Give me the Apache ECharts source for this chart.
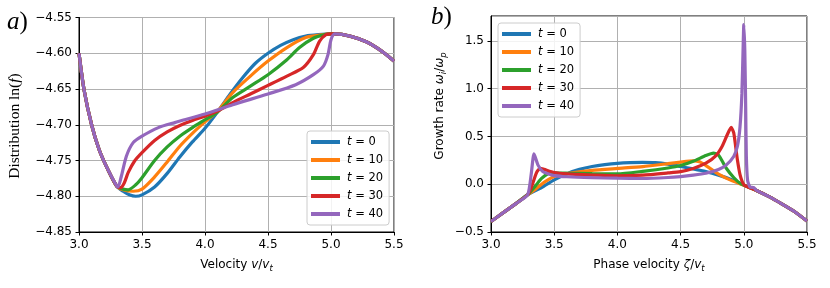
<!DOCTYPE html>
<html><head><meta charset="utf-8">
<script src="https://cdn.jsdelivr.net/npm/echarts@6/dist/echarts.min.js"></script>
<style>html,body{margin:0;padding:0;background:#fff}#c{width:830px;height:288px}</style>
</head><body><div id="c"></div><script>
// ---- data ----
const timeNames = ['t=0', 't=10', 't=20', 't=30', 't=40'];
const xTicks = [3.0, 3.5, 4.0, 4.5, 5.0, 5.5];

// panel a) distribution ln(f): shared tails
const distLoX = [3.0, 3.04, 3.1, 3.16, 3.23, 3.3];
const distLoY = [-4.600, -4.651, -4.700, -4.735, -4.763, -4.786];
const distHiX = [5.03, 5.15, 5.28, 5.41, 5.5];
const distHiY = [-4.573, -4.576, -4.584, -4.598, -4.611];
// per-time middle parts
const distX_t0 = [3.35, 3.4, 3.45, 3.5, 3.6, 3.7, 3.8, 3.9, 4.0, 4.1, 4.2, 4.3, 4.4, 4.5, 4.6, 4.7, 4.8, 4.9, 5.0];
const distY_t0 = [-4.793, -4.798, -4.800, -4.798, -4.787, -4.768, -4.745, -4.724, -4.705, -4.682, -4.657, -4.634, -4.614, -4.600, -4.589, -4.581, -4.576, -4.574, -4.573];
const distX_t10 = [3.35, 3.43, 3.5, 3.6, 3.7, 3.8, 3.9, 4.0, 4.1, 4.22, 4.36, 4.5, 4.65, 4.8, 4.94, 5.0];
const distY_t10 = [-4.791, -4.793, -4.790, -4.773, -4.752, -4.730, -4.712, -4.696, -4.681, -4.655, -4.632, -4.611, -4.592, -4.578, -4.574, -4.573];
const distX_t20 = [3.35, 3.39, 3.45, 3.5, 3.6, 3.7, 3.8, 3.9, 4.0, 4.1, 4.22, 4.36, 4.5, 4.65, 4.75, 4.86, 4.95, 5.0];
const distY_t20 = [-4.790, -4.791, -4.784, -4.774, -4.750, -4.731, -4.716, -4.704, -4.693, -4.682, -4.662, -4.646, -4.630, -4.609, -4.592, -4.579, -4.574, -4.573];
const distX_t30 = [3.33, 3.36, 3.39, 3.44, 3.5, 3.6, 3.7, 3.8, 3.9, 4.0, 4.1, 4.22, 4.36, 4.5, 4.65, 4.78, 4.86, 4.91, 4.96, 5.0];
const distY_t30 = [-4.788, -4.781, -4.767, -4.751, -4.739, -4.722, -4.710, -4.701, -4.694, -4.688, -4.681, -4.669, -4.657, -4.645, -4.632, -4.620, -4.602, -4.583, -4.574, -4.573];
const distX_t40 = [3.31, 3.336, 3.376, 3.43, 3.5, 3.63, 3.76, 4.0, 4.22, 4.5, 4.72, 4.86, 4.94, 4.976, 5.0];
const distY_t40 = [-4.787, -4.772, -4.744, -4.725, -4.716, -4.704, -4.697, -4.685, -4.672, -4.657, -4.644, -4.630, -4.618, -4.602, -4.581];

// panel b) growth rate: shared tails
const growLoX = [3.0, 3.1, 3.2, 3.29];
const growLoY = [-0.39, -0.295, -0.2, -0.11];
const growHiX = [5.01, 5.1, 5.2, 5.3, 5.4, 5.5];
const growHiY = [-0.015, -0.065, -0.13, -0.205, -0.285, -0.385];
const growX_t0 = [3.4, 3.5, 3.6, 3.7, 3.8, 3.9, 4.0, 4.1, 4.2, 4.3, 4.4, 4.5, 4.6, 4.7, 4.8, 4.9, 4.97];
const growY_t0 = [-0.035, 0.045, 0.11, 0.155, 0.185, 0.205, 0.219, 0.226, 0.228, 0.225, 0.21, 0.185, 0.16, 0.132, 0.095, 0.05, 0.01];
const growX_t10 = [3.35, 3.4, 3.45, 3.5, 3.6, 3.8, 4.0, 4.2, 4.4, 4.5, 4.6, 4.65, 4.7, 4.8, 4.9];
const growY_t10 = [-0.055, 0.0, 0.045, 0.08, 0.11, 0.145, 0.165, 0.184, 0.215, 0.232, 0.245, 0.235, 0.195, 0.105, 0.04];
const growX_t20 = [3.35, 3.4, 3.45, 3.5, 3.6, 3.8, 4.0, 4.2, 4.4, 4.5, 4.6, 4.7, 4.76, 4.8, 4.83, 4.86, 4.92, 4.97];
const growY_t20 = [-0.02, 0.06, 0.11, 0.12, 0.116, 0.11, 0.108, 0.135, 0.17, 0.195, 0.24, 0.3, 0.325, 0.305, 0.24, 0.17, 0.07, 0.01];
const growX_t30 = [3.32, 3.36, 3.39, 3.42, 3.5, 3.6, 3.8, 4.0, 4.2, 4.4, 4.5, 4.6, 4.7, 4.78, 4.83, 4.87, 4.9, 4.92, 4.935, 4.95, 4.97, 4.99];
const growY_t30 = [-0.03, 0.12, 0.167, 0.155, 0.122, 0.108, 0.096, 0.087, 0.095, 0.118, 0.132, 0.165, 0.22, 0.3, 0.4, 0.52, 0.595, 0.54, 0.4, 0.25, 0.1, 0.02];
const growX_t40 = [3.319, 3.34, 3.372, 3.41, 3.45, 3.5, 3.6, 3.8, 4.0, 4.2, 4.4, 4.5, 4.6, 4.7, 4.8, 4.86, 4.92, 4.95, 4.97, 4.985, 4.995, 5.0, 5.008, 5.015, 5.02, 5.03, 5.05, 5.08];
const growY_t40 = [0.115, 0.317, 0.20, 0.132, 0.11, 0.09, 0.078, 0.068, 0.063, 0.06, 0.07, 0.08, 0.095, 0.115, 0.155, 0.2, 0.29, 0.4, 0.6, 0.95, 1.45, 1.67, 1.4, 0.8, 0.3, 0.04, -0.03, -0.035];

// ---- build ----
const palette = ['#1f77b4', '#ff7f0e', '#2ca02c', '#d62728', '#9467bd'];
function join(loX, loY, mX, mY, hiX, hiY) {
  const pts = [];
  loX.forEach((x, i) => { if (x < mX[0]) pts.push([x, loY[i]]); });
  mX.forEach((x, i) => pts.push([x, mY[i]]));
  hiX.forEach((x, i) => { if (x > mX[mX.length - 1]) pts.push([x, hiY[i]]); });
  return pts;
}
const distMid = [[distX_t0, distY_t0], [distX_t10, distY_t10], [distX_t20, distY_t20], [distX_t30, distY_t30], [distX_t40, distY_t40]];
const growMid = [[growX_t0, growY_t0], [growX_t10, growY_t10], [growX_t20, growY_t20], [growX_t30, growY_t30], [growX_t40, growY_t40]];

const FONT = 'DejaVu Sans';
const minus = v => String(v).replace('-', '\u2212');
function xAxisCfg(gi, nameRich) {
  return {
    type: 'value', gridIndex: gi, min: 3, max: 5.5, interval: 0.5,
    axisLine: {show: true, onZero: false, lineStyle: {color: '#000', width: 1}},
    axisTick: {show: true, length: 3.5, lineStyle: {color: '#000', width: 1}},
    axisLabel: {color: '#000', fontSize: 12, fontFamily: FONT, margin: 7,
      formatter: v => { const t = xTicks.find(k => Math.abs(k - v) < 1e-6); return t === undefined ? '' : minus(t.toFixed(1)); }},
    splitLine: {show: true, lineStyle: {color: '#b0b0b0', width: 1}},
    name: nameRich, nameLocation: 'middle', nameGap: 21,
    nameTextStyle: {color: '#000', fontSize: 12, fontFamily: FONT, lineHeight: 17,
      rich: {i: {fontStyle: 'italic', fontSize: 12, fontFamily: FONT, lineHeight: 17, color: '#000'},
             s: {fontStyle: 'italic', fontSize: 8.5, fontFamily: FONT, verticalAlign: 'bottom', color: '#000'}}}
  };
}
function yAxisCfg(gi, min, max, interval, dec) {
  return {
    type: 'value', gridIndex: gi, min: min, max: max, interval: interval,
    axisLine: {show: true, onZero: false, lineStyle: {color: '#000', width: 1}},
    axisTick: {show: true, length: 3.5, lineStyle: {color: '#000', width: 1}},
    axisLabel: {color: '#000', fontSize: 12, fontFamily: FONT, margin: 7, showMaxLabel: gi === 0,
      formatter: v => minus((Math.round(v * 100) / 100).toFixed(dec))},
    splitLine: {show: true, lineStyle: {color: '#b0b0b0', width: 1}}
  };
}
const series = [];
distMid.forEach((m, k) => series.push({
  name: timeNames[k], type: 'line', xAxisIndex: 0, yAxisIndex: 0,
  data: join(distLoX, distLoY, m[0], m[1], distHiX, distHiY),
  showSymbol: false, symbol: 'none', smooth: 0.25,
  lineStyle: {color: palette[k], width: 3.2}, itemStyle: {color: palette[k]}, z: 2 + k
}));
growMid.forEach((m, k) => series.push({
  name: timeNames[k], type: 'line', xAxisIndex: 1, yAxisIndex: 1,
  data: join(growLoX, growLoY, m[0], m[1], growHiX, growHiY),
  showSymbol: false, symbol: 'none', smooth: 0.2,
  lineStyle: {color: palette[k], width: 3.2}, itemStyle: {color: palette[k]}, z: 2 + k
}));
function legendCfg(left, top) {
  return {
    data: timeNames, orient: 'vertical', left: left, top: top,
    icon: 'rect', itemWidth: 29, itemHeight: 4, itemGap: 4,
    padding: [4, 6, 4, 4],
    backgroundColor: 'rgba(255,255,255,0.85)', borderColor: '#cccccc', borderWidth: 1, borderRadius: 3,
    selectedMode: false,
    formatter: n => '{i|t} = ' + n.slice(2),
    textStyle: {color: '#000', fontSize: 11.5, fontFamily: FONT, lineHeight: 14, padding: [0, 0, 0, 2],
      rich: {i: {fontStyle: 'italic', fontSize: 11.5, fontFamily: FONT, lineHeight: 14, color: '#000'}}}
  };
}
const option = {
  animation: false, backgroundColor: '#fff',
  grid: [
    {left: 79, top: 17.5, width: 315, height: 214.5, show: true, borderColor: '#000', borderWidth: 1, backgroundColor: 'transparent'},
    {left: 491, top: 16, width: 316, height: 216, show: true, borderColor: '#000', borderWidth: 1, backgroundColor: 'transparent'}
  ],
  xAxis: [xAxisCfg(0, 'Velocity {i|v}/{i|v}{s|t}'), xAxisCfg(1, 'Phase velocity {i|ζ}/{i|v}{s|t}')],
  yAxis: [yAxisCfg(0, -4.85, -4.55, 0.05, 2), yAxisCfg(1, -0.5, 1.76, 0.5, 1)],
  legend: [legendCfg(307, 131), legendCfg(498, 23)],
  series: series,
  graphic: [
    {type: 'text', x: 7, y: 22, style: {text: '{i|a})', fontFamily: 'Liberation Serif', fontSize: 25, fill: '#000', align: 'left', verticalAlign: 'middle',
      rich: {i: {fontStyle: 'italic', fontFamily: 'Liberation Serif', fontSize: 25}}}},
    {type: 'text', x: 431, y: 17, style: {text: '{i|b})', fontFamily: 'Liberation Serif', fontSize: 25, fill: '#000', align: 'left', verticalAlign: 'middle',
      rich: {i: {fontStyle: 'italic', fontFamily: 'Liberation Serif', fontSize: 25}}}},
    {type: 'text', x: 15, y: 126, rotation: Math.PI / 2, style: {text: 'Distribution ln({i|f})', fontFamily: 'Liberation Serif', fontSize: 15.5, fill: '#000', align: 'center', verticalAlign: 'middle',
      rich: {i: {fontStyle: 'italic', fontFamily: 'Liberation Serif', fontSize: 15.5}}}},
    {type: 'text', x: 440, y: 106, rotation: Math.PI / 2, style: {text: 'Growth rate {i|ω}{s|i}/{i|ω}{s|p}', fontFamily: FONT, fontSize: 12, lineHeight: 17, fill: '#000', align: 'center', verticalAlign: 'middle',
      rich: {i: {fontStyle: 'italic', fontFamily: FONT, fontSize: 12, lineHeight: 17}, s: {fontStyle: 'italic', fontFamily: FONT, fontSize: 8.5, verticalAlign: 'bottom'}}}}
  ]
};
const chart = echarts.init(document.getElementById('c'), null, {renderer: 'canvas'});
chart.setOption(option);
</script></body></html>
